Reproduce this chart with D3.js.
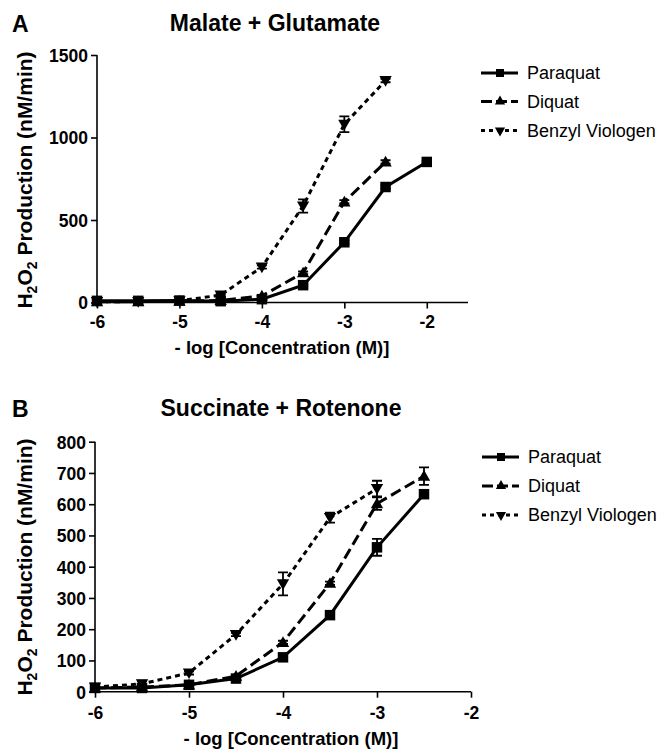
<!DOCTYPE html>
<html><head><meta charset="utf-8">
<script src="https://cdn.jsdelivr.net/npm/d3@7"></script>
<style>body{margin:0;background:#fff}svg{display:block}</style>
</head><body>
<svg id="c" width="664" height="750"></svg>
<script>
const seriesNames = ["Paraquat", "Diquat", "Benzyl Viologen"];
// Panel A: Malate + Glutamate
const xA_par = [-6, -5.5, -5, -4.5, -4, -3.5, -3, -2.5, -2];
const yA_par = [10, 10, 12, 8, 20, 105, 365, 700, 852];
const eA_par = [0, 0, 0, 0, 0, 8, 10, 10, 8];
const xA_diq = [-6, -5.5, -5, -4.5, -4, -3.5, -3, -2.5];
const yA_diq = [5, 5, 8, 12, 40, 180, 610, 852];
const eA_diq = [0, 0, 0, 0, 0, 8, 10, 10];
const xA_bv = [-6, -5.5, -5, -4.5, -4, -3.5, -3, -2.5];
const yA_bv = [5, 5, 10, 45, 215, 585, 1080, 1345];
const eA_bv = [0, 0, 0, 5, 10, 40, 48, 10];
const xTicksA = [-6, -5, -4, -3, -2];
const yTicksA = [0, 500, 1000, 1500];
// Panel B: Succinate + Rotenone
const xB_par = [-6, -5.5, -5, -4.5, -4, -3.5, -3, -2.5];
const yB_par = [12, 12, 22, 42, 110, 245, 462, 632];
const eB_par = [0, 0, 0, 0, 5, 5, 27, 8];
const xB_diq = [-6, -5.5, -5, -4.5, -4, -3.5, -3, -2.5];
const yB_diq = [12, 15, 22, 50, 158, 347, 602, 690];
const eB_diq = [0, 0, 0, 0, 5, 5, 20, 28];
const xB_bv = [-6, -5.5, -5, -4.5, -4, -3.5, -3];
const yB_bv = [15, 25, 60, 183, 345, 557, 650];
const eB_bv = [0, 10, 5, 5, 37, 16, 25];
const xTicksB = [-6, -5, -4, -3, -2];
const yTicksB = [0, 100, 200, 300, 400, 500, 600, 700, 800];

const FONT = "'Liberation Sans', Arial, Helvetica, sans-serif";
const svg = d3.select("#c");
const dashes = ["none", "11,5", "5,4"];
const symbols = [d3.symbolSquare, d3.symbolTriangle, d3.symbolTriangle];
const rot = [0, 0, 180];

function panel(cfg) {
  const g = svg.append("g");
  const x = d3.scaleLinear().domain(cfg.xDomain).range([cfg.left, cfg.right]);
  const y = d3.scaleLinear().domain(cfg.yDomain).range([cfg.bottom, cfg.top]);
  const fmt = d => String(d);
  const xa = g.append("g").attr("transform", `translate(0,${cfg.bottom})`)
    .call(d3.axisBottom(x).tickValues(cfg.xTicks).tickSize(6).tickPadding(cfg.xPad).tickFormat(fmt));
  const ya = g.append("g").attr("transform", `translate(${cfg.left},0)`)
    .call(d3.axisLeft(y).tickValues(cfg.yTicks).tickSize(6).tickPadding(3).tickFormat(fmt));
  [xa, ya].forEach(a => {
    a.select(".domain").attr("stroke", "#000").attr("stroke-width", 1.6);
    a.selectAll(".tick line").attr("stroke", "#000").attr("stroke-width", 1.6);
    a.selectAll(".tick text").attr("fill", "#000").style("font-family", FONT)
      .style("font-size", "17.5px").style("font-weight", "bold");
  });
  xa.select(".domain").attr("d", `M${cfg.left},0H${cfg.right}`);
  ya.select(".domain").attr("d", `M0,${cfg.bottom}V${cfg.top}`);
  ya.selectAll(".tick text").attr("dy", "0.36em");

  const line = d3.line().x(d => x(d[0])).y(d => y(d[1]));
  cfg.series.forEach((s) => {
    const pts = s.x.map((v, k) => [v, s.y[k], s.e[k]]);
    g.append("path").datum(pts).attr("d", line).attr("fill", "none")
      .attr("stroke", "#000").attr("stroke-width", 3)
      .attr("stroke-dasharray", dashes[s.k]);
    pts.filter(p => p[2] > 0).forEach(p => {
      const cx = x(p[0]);
      g.append("path").attr("d", `M${cx},${y(p[1]-p[2])}V${y(p[1]+p[2])}M${cx-5},${y(p[1]+p[2])}H${cx+5}M${cx-5},${y(p[1]-p[2])}H${cx+5}`)
        .attr("stroke", "#000").attr("stroke-width", 1.8).attr("fill", "none");
    });
    const sym = d3.symbol().type(symbols[s.k]).size(s.k === 0 ? 110 : 66);
    g.selectAll(null).data(pts).join("path")
      .attr("d", sym)
      .attr("transform", d => `translate(${x(d[0])},${y(d[1]) + (s.k===1?1:(s.k===2?-1:0))}) rotate(${rot[s.k]})`)
      .attr("fill", "#000");
  });

  g.append("text").attr("x", cfg.letterX).attr("y", cfg.titleY + 1).text(cfg.letter)
    .style("font-family", FONT).style("font-size", "23px").style("font-weight", "bold");
  g.append("text").attr("x", cfg.titleX).attr("y", cfg.titleY).attr("text-anchor", "middle").text(cfg.title)
    .style("font-family", FONT).style("font-size", "23px").style("font-weight", "bold");
  g.append("text").attr("x", cfg.xLabelX).attr("y", cfg.xLabelY).attr("text-anchor", "middle")
    .text("- log [Concentration (M)]")
    .style("font-family", FONT).style("font-size", "18.5px").style("font-weight", "bold");
  const yl = g.append("text").attr("transform", `translate(32,${cfg.yLabelY}) rotate(-90)`)
    .attr("text-anchor", "middle")
    .style("font-family", FONT).style("font-size", "21px").style("font-weight", "bold");
  yl.append("tspan").text("H");
  yl.append("tspan").text("2").attr("dy", 5).style("font-size", "14px");
  yl.append("tspan").text("O").attr("dy", -5);
  yl.append("tspan").text("2").attr("dy", 5).style("font-size", "14px");
  yl.append("tspan").text(" Production (nM/min)").attr("dy", -5);

  seriesNames.forEach((n, i) => {
    const ly = cfg.legendY[i];
    g.append("path").attr("d", `M${cfg.legendX},${ly}H${cfg.legendX + 37}`)
      .attr("stroke", "#000").attr("stroke-width", 3).attr("fill", "none")
      .attr("stroke-dasharray", i === 0 ? "none" : (i === 1 ? "11,4" : "4,4"));
    g.append("path").attr("d", d3.symbol().type(symbols[i]).size(i === 0 ? 64 : 45))
      .attr("transform", `translate(${cfg.legendX + 19},${ly}) rotate(${rot[i]})`).attr("fill", "#000");
    g.append("text").attr("x", cfg.legendX + 46).attr("y", ly).attr("dy", "0.35em").text(n)
      .style("font-family", FONT).style("font-size", "18px");
  });
}

panel({
  xDomain: [-6, -1.5], yDomain: [0, 1500], left: 97, right: 468, top: 55, bottom: 302.5,
  xTicks: xTicksA, yTicks: yTicksA, xPad: 7,
  series: [
    {k: 0, x: xA_par, y: yA_par, e: eA_par},
    {k: 1, x: xA_diq, y: yA_diq, e: eA_diq},
    {k: 2, x: xA_bv, y: yA_bv, e: eA_bv}
  ],
  letter: "A", letterX: 12, title: "Malate + Glutamate", titleX: 275, titleY: 31,
  xLabelX: 282, xLabelY: 354, yLabelY: 180,
  legendX: 481, legendY: [73, 101.5, 130.5]
});

panel({
  xDomain: [-6, -2], yDomain: [0, 800], left: 95, right: 471, top: 441.7, bottom: 691.7,
  xTicks: xTicksB, yTicks: yTicksB, xPad: 9,
  series: [
    {k: 0, x: xB_par, y: yB_par, e: eB_par},
    {k: 1, x: xB_diq, y: yB_diq, e: eB_diq},
    {k: 2, x: xB_bv, y: yB_bv, e: eB_bv}
  ],
  letter: "B", letterX: 12, title: "Succinate + Rotenone", titleX: 281, titleY: 416,
  xLabelX: 291, xLabelY: 745, yLabelY: 567,
  legendX: 482, legendY: [457, 486, 515]
});
</script>
</body></html>
